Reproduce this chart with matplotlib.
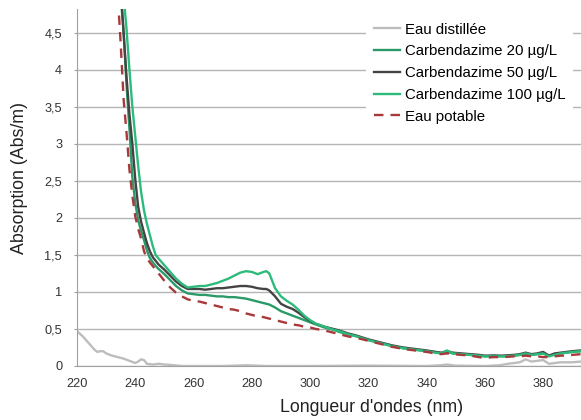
import matplotlib.pyplot as plt
import numpy as np

plt.rcParams['font.family'] = ['Liberation Sans', 'DejaVu Sans']

# DATA
wl_distillee = [220, 222, 224, 226, 227, 228, 229, 230, 232, 234, 236, 238, 240, 241, 242, 243, 244,
                246, 248, 250, 252, 256, 260, 270, 278, 285, 300, 320, 340, 345, 347, 350, 360,
                365, 368, 370, 372, 374, 376, 378, 380, 382, 384, 386, 388, 390, 393]
abs_distillee = [0.47, 0.40, 0.31, 0.22, 0.19, 0.20, 0.20, 0.17, 0.14, 0.12, 0.10, 0.07, 0.04, 0.06,
                 0.09, 0.08, 0.03, 0.02, 0.03, 0.02, 0.015, 0.0, 0.0, 0.0, 0.01, 0.0, 0.0, 0.005, 0.0,
                 0.01, 0.02, 0.005, 0.0, 0.01, 0.03, 0.04, 0.05, 0.09, 0.06, 0.07, 0.08, 0.03, 0.04,
                 0.05, 0.05, 0.05, 0.06]

wl = [232, 234, 235, 236, 237, 238, 239, 240, 241, 242, 243, 244, 245, 246, 247, 248, 250, 252, 254,
      256, 258, 260, 262, 264, 266, 268, 270, 272, 274, 276, 278, 280, 282, 284, 285, 286, 288, 290,
      292, 294, 296, 298, 300, 302, 305, 308, 310, 313, 316, 320, 324, 328, 332, 336, 340, 343, 345,
      347, 349, 352, 355, 358, 360, 363, 366, 370, 372, 374, 376, 378, 380, 382, 384, 386, 388, 390, 393]

abs_20 = [7.0, 5.6, 5.0, 4.5, 3.8, 3.2, 2.55, 2.2, 1.97, 1.82, 1.7, 1.56, 1.46, 1.4, 1.35, 1.31, 1.24,
          1.16, 1.08, 1.02, 0.98, 0.97, 0.96, 0.96, 0.95, 0.94, 0.94, 0.93, 0.93, 0.92, 0.91, 0.89, 0.87,
          0.85, 0.84, 0.83, 0.79, 0.74, 0.71, 0.68, 0.65, 0.62, 0.59,
          0.56, 0.52, 0.49, 0.46, 0.43, 0.40, 0.35, 0.31, 0.27, 0.24, 0.22, 0.20, 0.19, 0.17, 0.19, 0.17,
          0.16, 0.15, 0.14, 0.13, 0.14, 0.13, 0.14, 0.15, 0.16, 0.15, 0.16, 0.17, 0.14, 0.16, 0.17, 0.18,
          0.19, 0.20]

abs_50 = [7.5, 5.8, 5.1, 4.5, 3.9, 3.4, 3.0, 2.52, 2.15, 1.95, 1.8, 1.66, 1.55, 1.47, 1.42, 1.37, 1.30,
          1.22, 1.14, 1.08, 1.04, 1.04, 1.04, 1.03, 1.04, 1.05, 1.05, 1.06, 1.07, 1.08, 1.08, 1.07, 1.05,
          1.04, 1.04, 1.02, 0.94, 0.84, 0.80, 0.77, 0.72, 0.66, 0.61,
          0.57, 0.53, 0.50, 0.48, 0.44, 0.41, 0.36, 0.32, 0.28, 0.25, 0.23, 0.21, 0.19, 0.18, 0.20, 0.18,
          0.17, 0.16, 0.15, 0.14, 0.14, 0.14, 0.15, 0.16, 0.18, 0.16, 0.17, 0.19, 0.14, 0.17, 0.18, 0.19,
          0.20, 0.21]

abs_100 = [8.0, 6.2, 5.5, 5.0, 4.55, 4.0, 3.5, 3.1, 2.7, 2.35, 2.1, 1.92, 1.77, 1.62, 1.5, 1.45, 1.36,
           1.27, 1.18, 1.11, 1.06, 1.07, 1.08, 1.08, 1.10, 1.12, 1.15, 1.18, 1.22, 1.26, 1.28, 1.27, 1.24,
           1.27, 1.28, 1.25, 1.05, 0.94, 0.88, 0.83, 0.76, 0.68, 0.62,
           0.57, 0.53, 0.49, 0.47, 0.43, 0.40, 0.35, 0.31, 0.27, 0.24, 0.22, 0.20, 0.18, 0.17, 0.21, 0.17,
           0.16, 0.15, 0.14, 0.13, 0.13, 0.13, 0.14, 0.15, 0.17, 0.15, 0.16, 0.17, 0.13, 0.15, 0.17, 0.18,
           0.19, 0.20]

abs_potable = [6.5, 5.0, 4.35, 3.6, 3.15, 2.65, 2.3, 2.02, 1.85, 1.72, 1.55, 1.45, 1.4, 1.35, 1.30, 1.25,
               1.15, 1.06, 0.99, 0.94, 0.90, 0.88, 0.87, 0.85, 0.83, 0.81, 0.79, 0.77, 0.76, 0.74, 0.71,
               0.69, 0.67, 0.66, 0.65, 0.64, 0.62, 0.60, 0.58, 0.56, 0.55, 0.53, 0.52,
               0.50, 0.48, 0.45, 0.43, 0.40, 0.38, 0.34, 0.30, 0.26, 0.23, 0.21, 0.19, 0.17, 0.16, 0.17,
               0.16, 0.15, 0.14, 0.12, 0.11, 0.12, 0.12, 0.13, 0.13, 0.14, 0.13, 0.13, 0.12, 0.12, 0.13,
               0.14, 0.14, 0.15, 0.16]

y_ticks = [0, 0.5, 1, 1.5, 2, 2.5, 3, 3.5, 4, 4.5]
y_tick_labels = ["0", "0,5", "1", "1,5", "2", "2,5", "3", "3,5", "4", "4,5"]
x_ticks = [220, 240, 260, 280, 300, 320, 340, 360, 380]

fig = plt.figure(figsize=(5.81, 4.20), dpi=100)
ax = fig.add_axes([77 / 581, 54 / 420, 504 / 581, 357 / 420])

ax.plot(wl_distillee, abs_distillee, color="#bdbdbd", lw=1.7, label="Eau distillée")
ax.plot(wl, abs_20, color="#2a9a68", lw=1.7, label="Carbendazime 20 µg/L")
ax.plot(wl, abs_50, color="#444444", lw=1.7, label="Carbendazime 50 µg/L")
ax.plot(wl, abs_100, color="#2dbb7c", lw=1.7, label="Carbendazime 100 µg/L")
ax.plot(wl, abs_potable, color="#a8393b", lw=1.7, ls=(0, (4, 3)), label="Eau potable")

ax.set_xlim(220, 393)
ax.set_ylim(0, 4.82)
ax.set_yticks(y_ticks)
ax.set_yticklabels(y_tick_labels)
ax.set_xticks(x_ticks)
ax.tick_params(axis="y", length=2.2, color="#a0a0a0", labelsize=9.2, labelcolor="#333333", pad=8.5)
ax.tick_params(axis="x", length=0, labelsize=9.2, labelcolor="#333333", pad=8.5)
ax.yaxis.grid(True, color="#b5b5b5", lw=1)
ax.set_axisbelow(True)
for s in ["top", "right"]:
    ax.spines[s].set_visible(False)
for s in ["left", "bottom"]:
    ax.spines[s].set_color("#a0a0a0")

ax.set_xlabel("Longueur d'ondes (nm)", fontsize=12.8, color="#222222")
ax.xaxis.set_label_coords((372 - 77) / 504, -(408 - 366) / 357)
ax.set_ylabel("Absorption (Abs/m)", fontsize=12.8, color="#222222")
ax.yaxis.set_label_coords(-(77 - 20) / 504, (366 - 177.5) / 357)
ax.xaxis.label.set_va("center")
ax.yaxis.label.set_va("center")

leg = ax.legend(loc="upper left", bbox_to_anchor=(366 / 581, 1 - 15 / 420),
                bbox_transform=fig.transFigure, fontsize=10.8, frameon=True,
                handlelength=1.75, handletextpad=0.35, labelspacing=0.52, borderpad=0.5,
                borderaxespad=0)
leg.get_frame().set_facecolor("white")
leg.get_frame().set_edgecolor("none")
leg.get_frame().set_alpha(1)
leg.get_frame().set_boxstyle("square", pad=0)

fig.savefig("out.png", dpi=100)
